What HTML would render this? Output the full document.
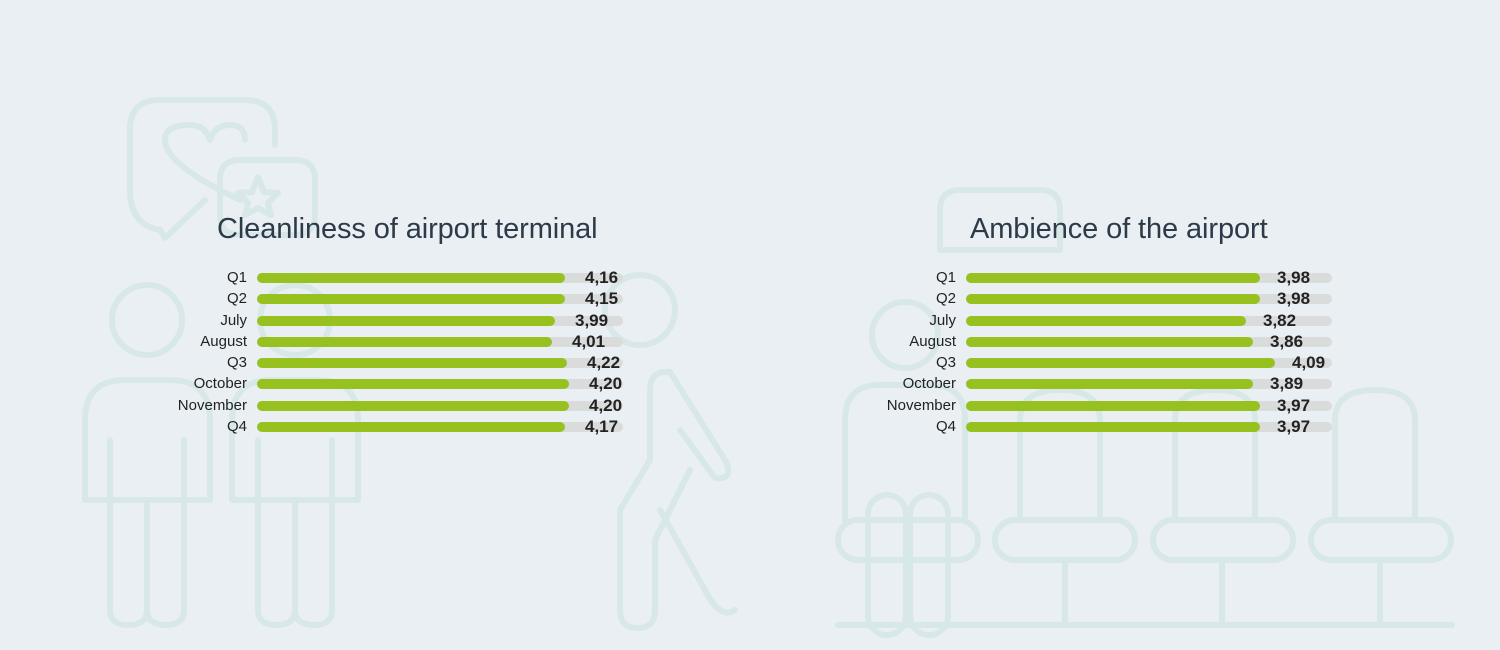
<!DOCTYPE html>
<html><head><style>
body{margin:0;width:1500px;height:650px;background:#e9eff3;overflow:hidden;font-family:"Liberation Sans",sans-serif;position:relative}
svg.bg{position:absolute;left:0;top:0}
.t{position:absolute;font-size:29px;color:#2d3a48;letter-spacing:-0.1px}
.lab{position:absolute;font-size:15px;color:#222;text-align:right;width:120px;line-height:16px}
.trk{position:absolute;height:10px;border-radius:5px;background:#dadcdc}
.bar{position:absolute;height:10px;border-radius:5px;background:#96c11f}
.v{position:absolute;font-size:17px;font-weight:bold;color:#222;line-height:16px}
</style></head><body>
<svg class="bg" width="1500" height="650" fill="none" stroke="#d8e8e8" stroke-width="6" stroke-linecap="round" stroke-linejoin="round">
<path d="M160 230 Q130 225 130 190 V130 Q130 100 160 100 H245 Q275 100 275 130 V145"/>
<path d="M160 230 L165 238 L205 200"/>
<path d="M240 200 Q165 165 165 140 Q165 125 190 125 Q205 125 210 140 Q215 125 230 125 Q245 125 245 140"/>
<path d="M240 160 H295 Q315 160 315 180 V215 Q315 235 295 235 H240 Q220 235 220 215 V180 Q220 160 240 160Z"/>
<path d="M258 177 L264 192 L278 193 L268 203 L271 215 L258 208 L245 215 L248 203 L238 193 L252 192Z"/>
<circle cx="147" cy="320" r="35"/>
<circle cx="295" cy="320" r="35"/>
<path d="M85 500 V420 Q85 380 125 380 H170 Q210 380 210 420 V500Z"/>
<path d="M232 500 V420 Q232 380 272 380 H318 Q358 380 358 420 V500Z"/>
<path d="M110 440 V610 Q110 625 128 625 Q147 625 147 610 V500 M147 610 Q147 625 166 625 Q184 625 184 610 V440"/>
<path d="M258 440 V610 Q258 625 276 625 Q295 625 295 610 V500 M295 610 Q295 625 314 625 Q332 625 332 610 V440"/>
<circle cx="640" cy="310" r="35"/>
<path d="M620 510 L650 460 V390 Q650 370 670 372 L725 460 Q735 480 715 478 L680 430 M690 470 L655 540 V610 Q655 628 638 628 Q620 628 620 610 V510 M660 510 L705 590 Q720 620 735 610"/>
<path d="M960 190 H1040 Q1060 190 1060 210 V250 H940 V210 Q940 190 960 190Z"/>
<circle cx="905" cy="335" r="33"/>
<path d="M845 520 V420 Q845 385 880 385 H930 Q965 385 965 420 V520"/>
<path d="M1020 520 V420 Q1020 390 1060 390 Q1100 390 1100 420 V520 M1175 520 V420 Q1175 390 1215 390 Q1255 390 1255 420 V520 M1335 520 V420 Q1335 390 1375 390 Q1415 390 1415 420 V520"/>
<rect x="838" y="520" width="140" height="40" rx="20"/>
<rect x="995" y="520" width="140" height="40" rx="20"/>
<rect x="1153" y="520" width="140" height="40" rx="20"/>
<rect x="1311" y="520" width="140" height="40" rx="20"/>
<rect x="868" y="495" width="38" height="140" rx="19"/>
<rect x="910" y="495" width="38" height="140" rx="19"/>
<path d="M1065 560 V625 M1222 560 V625 M1380 560 V625 M838 625 H1452"/>
</svg>
<div class="t" style="left:217px;top:213px">Cleanliness of airport terminal</div>
<div class="t" style="left:970px;top:213px">Ambience of the airport</div>
<div id="c"></div>
<script>
const rows=["Q1","Q2","July","August","Q3","October","November","Q4"];
const ys=[278,299,321,342,363,384,406,427];
const charts=[{x:257,end:623,g:[565,565,555,552,567,569,569,565],v:["4,16","4,15","3,99","4,01","4,22","4,20","4,20","4,17"],off:20},
{x:966,end:1332,g:[1260,1260,1246,1253,1275,1253,1260,1260],v:["3,98","3,98","3,82","3,86","4,09","3,89","3,97","3,97"],off:17}];
let h="";
for(const c of charts){rows.forEach((r,i)=>{const y=ys[i];
h+=`<div class="lab" style="left:${c.x-130}px;top:${y-8}px">${r}</div>`;
h+=`<div class="trk" style="left:${c.x}px;top:${y-5}px;width:${c.end-c.x}px"></div>`;
h+=`<div class="bar" style="left:${c.x}px;top:${y-5}px;width:${c.g[i]-c.x}px"></div>`;
h+=`<div class="v" style="left:${c.g[i]+c.off}px;top:${y-8}px">${c.v[i]}</div>`;});}
document.getElementById("c").innerHTML=h;
</script>
</body></html>
